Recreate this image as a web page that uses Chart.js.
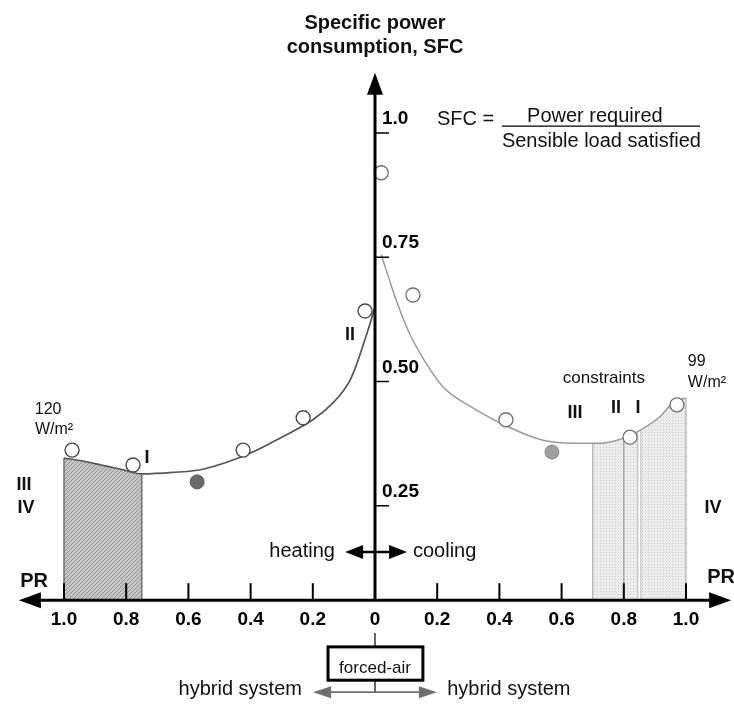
<!DOCTYPE html>
<html>
<head>
<meta charset="utf-8">
<script src="https://cdn.jsdelivr.net/npm/chart.js@4.4.1/dist/chart.umd.min.js"></script>
<style>
  html, body { margin: 0; padding: 0; background: #fff; }
  canvas { display: block; }
</style>
</head>
<body>
<canvas id="sfcChart" width="734" height="706"></canvas>
<script>
// heating side, PR grows to the left of the SFC axis
var heatCurvePR   = [1.0, 0.94, 0.88, 0.82, 0.75, 0.65, 0.55, 0.40, 0.30, 0.20, 0.135, 0.10, 0.08, 0.06, 0.04, 0.02, 0.0];
var heatCurveSFC  = [0.346, 0.340, 0.332, 0.324, 0.314, 0.317, 0.324, 0.356, 0.388, 0.423, 0.457, 0.483, 0.503, 0.533, 0.57, 0.608, 0.65];
var heatOpenPR    = [0.974, 0.778, 0.424, 0.231, 0.032];
var heatOpenSFC   = [0.362, 0.332, 0.362, 0.427, 0.642];
var heatFilledPR  = [0.572];
var heatFilledSFC = [0.298];

// cooling side
var coolCurvePR   = [0.02, 0.045, 0.068, 0.11, 0.164, 0.219, 0.325, 0.431, 0.54, 0.646, 0.70, 0.743, 0.80, 0.85, 0.916, 0.958, 1.0];
var coolCurveSFC  = [0.755, 0.707, 0.664, 0.598, 0.537, 0.489, 0.443, 0.408, 0.382, 0.376, 0.376, 0.377, 0.386, 0.401, 0.429, 0.457, 0.467];
var coolOpenPR    = [0.02, 0.122, 0.421, 0.82, 0.971];
var coolOpenSFC   = [0.92, 0.674, 0.423, 0.388, 0.453];
var coolFilledPR  = [0.569];
var coolFilledSFC = [0.358];

// shaded PR ranges and the constraint dividers inside the cooling one
var heatShade    = [0.75, 1.0];
var coolShade    = [0.70, 1.0];
var coolDividers = [0.80, 0.85];

// axes
var prTickValues  = [-1.0, -0.8, -0.6, -0.4, -0.2, 0, 0.2, 0.4, 0.6, 0.8, 1.0];
var prTickLabels  = ['1.0', '0.8', '0.6', '0.4', '0.2', '0', '0.2', '0.4', '0.6', '0.8', '1.0'];
var sfcTickValues = [0.25, 0.5, 0.75, 1.0];
var sfcTickLabels = ['0.25', '0.50', '0.75', '1.0'];
var prAxisAt = 0.06;      // SFC level where the PR axis is drawn
var prArrowAt = 1.145;    // PR reach of the horizontal arrows
var sfcArrowAt = 1.121;   // SFC reach of the vertical arrow

var FONT = "'Liberation Sans', Arial, Helvetica, sans-serif";

// text placed in data units (x = signed PR, y = SFC)
var notes = [
  { t: 'Specific power', x: 0, y: 1.209, f: 'bold 20px', a: 'center' },
  { t: 'consumption, SFC', x: 0, y: 1.161, f: 'bold 20px', a: 'center' },
  { t: 'SFC =', x: 0.199, y: 1.016, f: '20px', a: 'left' },
  { t: 'Power required', x: 0.707, y: 1.022, f: '20px', a: 'center' },
  { t: 'Sensible load satisfied', x: 0.408, y: 0.972, f: '20px', a: 'left' },
  { t: 'heating', x: -0.129, y: 0.147, f: '20px', a: 'right' },
  { t: 'cooling', x: 0.122, y: 0.147, f: '20px', a: 'left' },
  { t: 'PR', x: -1.096, y: 0.087, f: 'bold 20px', a: 'center' },
  { t: 'PR', x: 1.113, y: 0.095, f: 'bold 20px', a: 'center' },
  { t: '120', x: -1.051, y: 0.435, f: '16px', a: 'center' },
  { t: 'W/m\u00b2', x: -1.032, y: 0.394, f: '16px', a: 'center' },
  { t: 'I', x: -0.733, y: 0.336, f: 'bold 18px', a: 'center' },
  { t: 'III', x: -1.129, y: 0.282, f: 'bold 18px', a: 'center' },
  { t: 'IV', x: -1.122, y: 0.235, f: 'bold 18px', a: 'center' },
  { t: 'II', x: -0.080, y: 0.583, f: 'bold 18px', a: 'center' },
  { t: 'constraints', x: 0.736, y: 0.497, f: '17px', a: 'center' },
  { t: '99', x: 1.006, y: 0.531, f: '16px', a: 'left' },
  { t: 'W/m\u00b2', x: 1.006, y: 0.489, f: '16px', a: 'left' },
  { t: 'III', x: 0.643, y: 0.427, f: 'bold 18px', a: 'center' },
  { t: 'II', x: 0.775, y: 0.437, f: 'bold 18px', a: 'center' },
  { t: 'I', x: 0.846, y: 0.437, f: 'bold 18px', a: 'center' },
  { t: 'IV', x: 1.087, y: 0.235, f: 'bold 18px', a: 'center' },
  { t: 'forced-air', x: 0, y: -0.087, f: '17px', a: 'center' },
  { t: 'hybrid system', x: -0.235, y: -0.131, f: '20px', a: 'right' },
  { t: 'hybrid system', x: 0.232, y: -0.131, f: '20px', a: 'left' }
];

function toPoints(prs, sfcs, sign) {
  return prs.map(function (p, i) { return { x: sign * p, y: sfcs[i] }; });
}
function inRange(points, lo, hi) {
  return points.filter(function (p) { return Math.abs(p.x) >= lo - 1e-9 && Math.abs(p.x) <= hi + 1e-9; });
}
function curveAt(prs, sfcs, pr) {
  var i = prs.indexOf(pr);
  return sfcs[i];
}

// hatch patterns for the shaded ranges
function makePattern(size, base, draw) {
  var c = document.createElement('canvas');
  c.width = size; c.height = size;
  var g = c.getContext('2d');
  g.fillStyle = base;
  g.fillRect(0, 0, size, size);
  draw(g);
  return g.createPattern(c, 'repeat');
}
var darkHatch = makePattern(4, '#c6c6c6', function (g) {
  g.strokeStyle = '#959595';
  g.lineWidth = 1;
  g.beginPath(); g.moveTo(0, 4); g.lineTo(4, 0); g.stroke();
});
var lightDots = makePattern(3, '#ececec', function (g) {
  g.fillStyle = '#cdcdcd';
  g.fillRect(0, 0, 1, 1);
});

var heatCurve = toPoints(heatCurvePR, heatCurveSFC, -1);
var coolCurve = toPoints(coolCurvePR, coolCurveSFC, 1);

function arrowHead(ctx, x, y, ang, len, half) {
  ctx.save();
  ctx.translate(x, y);
  ctx.rotate(ang);
  ctx.beginPath();
  ctx.moveTo(0, 0);
  ctx.lineTo(-len, -half);
  ctx.lineTo(-len, half);
  ctx.closePath();
  ctx.fill();
  ctx.restore();
}

var sfcDecor = {
  id: 'sfcDecor',
  // edges of the shaded ranges, under the curves and points
  beforeDatasetsDraw: function (chart) {
    var ctx = chart.ctx, xs = chart.scales.x, ys = chart.scales.y;
    function X(v) { return xs.getPixelForValue(v); }
    function Y(v) { return ys.getPixelForValue(v); }
    function edge(x, top, color, w) {
      ctx.strokeStyle = color;
      ctx.lineWidth = w;
      ctx.beginPath();
      ctx.moveTo(X(x), Y(prAxisAt));
      ctx.lineTo(X(x), Y(top));
      ctx.stroke();
    }
    ctx.save();
    heatShade.forEach(function (p) {
      edge(-p, curveAt(heatCurvePR, heatCurveSFC, p), '#707070', 1.5);
    });
    coolShade.forEach(function (p) {
      edge(p, curveAt(coolCurvePR, coolCurveSFC, p), '#b0b0b0', 1.2);
    });
    edge(coolDividers[0], curveAt(coolCurvePR, coolCurveSFC, coolDividers[0]), '#9a9a9a', 1.2);
    edge(coolDividers[1], curveAt(coolCurvePR, coolCurveSFC, coolDividers[1]), '#b8b8b8', 4);
    edge(coolDividers[1], curveAt(coolCurvePR, coolCurveSFC, coolDividers[1]), '#ffffff', 2);
    ctx.restore();
  },
  // axes, arrows, ticks and labels on top
  afterDatasetsDraw: function (chart) {
    var ctx = chart.ctx, xs = chart.scales.x, ys = chart.scales.y;
    function X(v) { return xs.getPixelForValue(v); }
    function Y(v) { return ys.getPixelForValue(v); }
    var ax = X(0), ay = Y(prAxisAt);
    ctx.save();
    ctx.strokeStyle = '#000';
    ctx.fillStyle = '#000';

    // PR axis with arrows at both ends
    ctx.lineWidth = 3;
    ctx.beginPath();
    ctx.moveTo(X(-prArrowAt) + 10, ay);
    ctx.lineTo(X(prArrowAt) - 10, ay);
    ctx.stroke();
    arrowHead(ctx, X(-prArrowAt), ay, Math.PI, 22, 8);
    arrowHead(ctx, X(prArrowAt), ay, 0, 22, 8);

    // SFC axis
    ctx.beginPath();
    ctx.moveTo(ax, ay);
    ctx.lineTo(ax, Y(sfcArrowAt) + 10);
    ctx.stroke();
    arrowHead(ctx, ax, Y(sfcArrowAt), -Math.PI / 2, 22, 8);

    // PR ticks and labels
    ctx.lineWidth = 2;
    ctx.font = 'bold 19px ' + FONT;
    ctx.textAlign = 'center';
    ctx.textBaseline = 'alphabetic';
    prTickValues.forEach(function (v, i) {
      if (v !== 0) {
        ctx.beginPath();
        ctx.moveTo(X(v), ay);
        ctx.lineTo(X(v), ay - 17);
        ctx.stroke();
      }
      ctx.fillText(prTickLabels[i], X(v), ay + 25);
    });

    // SFC ticks and labels
    ctx.lineWidth = 1.5;
    ctx.textAlign = 'left';
    sfcTickValues.forEach(function (v, i) {
      ctx.beginPath();
      ctx.moveTo(ax, Y(v));
      ctx.lineTo(ax + 14, Y(v));
      ctx.stroke();
      ctx.fillText(sfcTickLabels[i], ax + 7, Y(v) - 9);
    });

    // fraction bar of the SFC definition
    ctx.lineWidth = 1.3;
    ctx.beginPath();
    ctx.moveTo(X(0.408), Y(1.014));
    ctx.lineTo(X(1.045), Y(1.014));
    ctx.stroke();

    // heating / cooling double arrow
    ctx.lineWidth = 2.5;
    ctx.beginPath();
    ctx.moveTo(X(-0.096) + 10, Y(0.157));
    ctx.lineTo(X(0.103) - 10, Y(0.157));
    ctx.stroke();
    arrowHead(ctx, X(-0.096), Y(0.157), Math.PI, 18, 7);
    arrowHead(ctx, X(0.103), Y(0.157), 0, 18, 7);

    // forced-air box with its stems
    ctx.lineWidth = 3;
    ctx.strokeRect(X(-0.151), Y(-0.034), X(0.154) - X(-0.151), Y(-0.101) - Y(-0.034));
    ctx.lineWidth = 1.2;
    ctx.beginPath();
    ctx.moveTo(ax, Y(-0.006)); ctx.lineTo(ax, Y(-0.034));
    ctx.moveTo(ax, Y(-0.101)); ctx.lineTo(ax, Y(-0.127));
    ctx.stroke();

    // hybrid system double arrow
    ctx.strokeStyle = '#6e6e6e';
    ctx.fillStyle = '#6e6e6e';
    ctx.lineWidth = 1.6;
    ctx.beginPath();
    ctx.moveTo(X(-0.199) + 10, Y(-0.125));
    ctx.lineTo(X(0.199) - 10, Y(-0.125));
    ctx.stroke();
    arrowHead(ctx, X(-0.199), Y(-0.125), Math.PI, 18, 6);
    arrowHead(ctx, X(0.199), Y(-0.125), 0, 18, 6);

    // annotations
    ctx.fillStyle = '#111';
    notes.forEach(function (n) {
      ctx.font = n.f + ' ' + FONT;
      ctx.textAlign = n.a;
      ctx.fillText(n.t, X(n.x), Y(n.y));
    });
    ctx.restore();
  }
};

new Chart(document.getElementById('sfcChart'), {
  type: 'line',
  data: {
    datasets: [
      {
        label: 'heating, measured',
        data: toPoints(heatOpenPR, heatOpenSFC, -1),
        showLine: false,
        pointRadius: 7,
        pointBackgroundColor: '#fff',
        pointBorderColor: '#4a4a4a',
        pointBorderWidth: 1.4,
        order: 1
      },
      {
        label: 'heating, filled',
        data: toPoints(heatFilledPR, heatFilledSFC, -1),
        showLine: false,
        pointRadius: 7,
        pointBackgroundColor: '#6a6a6a',
        pointBorderColor: '#555',
        pointBorderWidth: 1,
        order: 1
      },
      {
        label: 'cooling, measured',
        data: toPoints(coolOpenPR, coolOpenSFC, 1),
        showLine: false,
        pointRadius: 7,
        pointBackgroundColor: '#fff',
        pointBorderColor: '#707070',
        pointBorderWidth: 1.3,
        order: 1
      },
      {
        label: 'cooling, filled',
        data: toPoints(coolFilledPR, coolFilledSFC, 1),
        showLine: false,
        pointRadius: 7,
        pointBackgroundColor: '#a0a0a0',
        pointBorderColor: '#8a8a8a',
        pointBorderWidth: 1,
        order: 1
      },
      {
        label: 'heating curve',
        data: heatCurve,
        borderColor: '#555',
        borderWidth: 1.7,
        pointRadius: 0,
        cubicInterpolationMode: 'monotone',
        fill: false,
        order: 2
      },
      {
        label: 'cooling curve',
        data: coolCurve,
        borderColor: '#9a9a9a',
        borderWidth: 1.5,
        pointRadius: 0,
        cubicInterpolationMode: 'monotone',
        fill: false,
        order: 2
      },
      {
        label: 'heating range',
        data: inRange(heatCurve, heatShade[0], heatShade[1]),
        borderWidth: 0,
        pointRadius: 0,
        cubicInterpolationMode: 'monotone',
        backgroundColor: darkHatch,
        fill: { value: prAxisAt },
        order: 3
      },
      {
        label: 'cooling range',
        data: inRange(coolCurve, coolShade[0], coolShade[1]),
        borderWidth: 0,
        pointRadius: 0,
        cubicInterpolationMode: 'monotone',
        backgroundColor: lightDots,
        fill: { value: prAxisAt },
        order: 3
      }
    ]
  },
  options: {
    responsive: false,
    animation: false,
    layout: { padding: 0, autoPadding: false },
    clip: false,
    scales: {
      x: { type: 'linear', min: -375 / 311, max: 359 / 311, display: false },
      y: { type: 'linear', min: -76 / 497, max: 630 / 497, display: false }
    },
    plugins: {
      legend: { display: false },
      tooltip: { enabled: false },
      filler: { drawTime: 'beforeDatasetsDraw' }
    }
  },
  plugins: [sfcDecor]
});
</script>
</body>
</html>
